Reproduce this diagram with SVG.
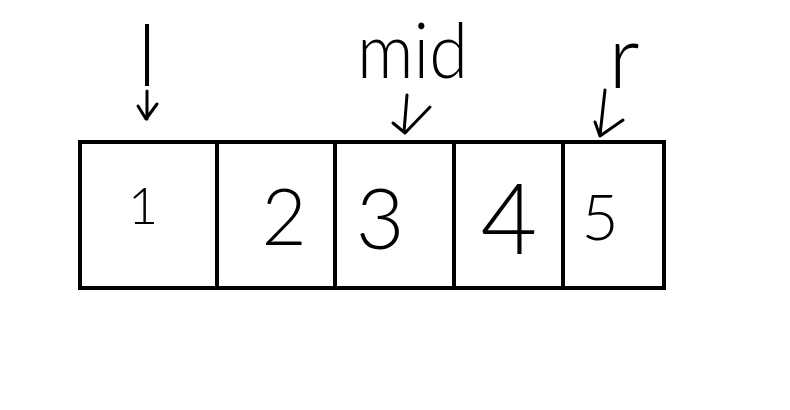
<svg xmlns="http://www.w3.org/2000/svg" width="790" height="410" viewBox="0 0 790 410">
<style>
.cell{fill:none;stroke:#000;stroke-width:4}
.d{font-family:Lato,"Liberation Sans",sans-serif;font-weight:300;fill:#000;text-anchor:middle}
.lab{font-family:Lato,"Liberation Sans",sans-serif;font-weight:300;fill:#000}
.arr{fill:none;stroke:#000;stroke-width:3;stroke-linecap:round;stroke-linejoin:round}
</style>
<rect width="790" height="410" fill="#fff"/>
<g id="cell1"><rect class="cell" x="80" y="142" width="137" height="146"/><text class="d" x="143" y="224" font-size="52">1</text></g>
<g id="cell2"><rect class="cell" x="217" y="142" width="118" height="146"/><text class="d" x="284" y="245" font-size="78">2</text></g>
<g id="cell3"><rect class="cell" x="335" y="142" width="119" height="146"/><text class="d" x="380" y="249" font-size="84">3</text></g>
<g id="cell4"><rect class="cell" x="454" y="142" width="109" height="146"/><text class="d" x="509" y="254" font-size="98">4</text></g>
<g id="cell5"><rect class="cell" x="563" y="142" width="101" height="146"/><text class="d" x="600" y="240" font-size="64">5</text></g>
<g id="label-l"><text class="lab" x="147" y="86" font-size="84" text-anchor="middle">l</text></g>
<g id="label-mid"><text class="lab" x="357" y="78" font-size="76" textLength="111" lengthAdjust="spacingAndGlyphs">mid</text></g>
<g id="label-r"><text class="lab" x="624" y="88" font-size="88" text-anchor="middle">r</text></g>
<g id="connectors">
<path class="arr" d="M147 91 L147 119 M138 106 L146 119 L157 104"/>
<path class="arr" d="M407 95 L404 132 M393 123 L405 133 L430 107"/>
<path class="arr" d="M605 90 L600 135 M595 122 L600 136 L623 120"/>
</g>
</svg>
